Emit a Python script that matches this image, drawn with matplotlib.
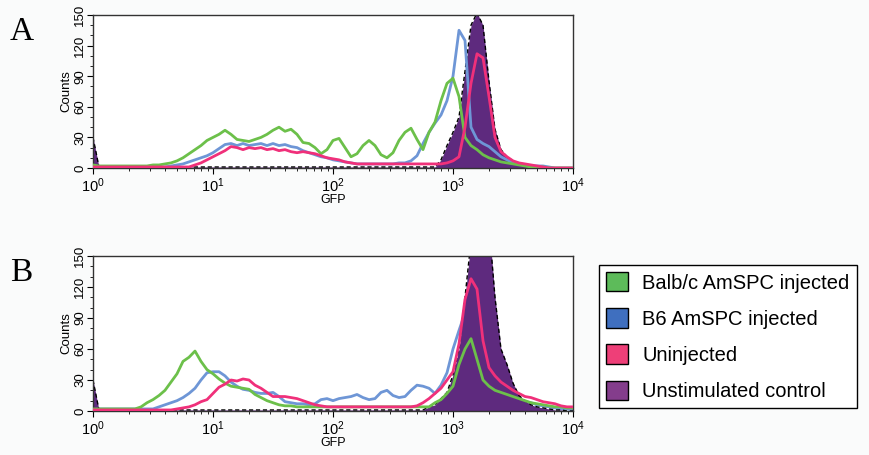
# FACS histograms: GFP expression, panels A and B
import matplotlib.pyplot as plt
import numpy as np
from matplotlib.patches import Patch

# log10(GFP) bin centres shared by all series
log_gfp = np.round(np.arange(0, 4.001, 0.05), 2)

# ---- panel A counts ----
a_balbc = [3, 2, 2, 2, 2, 2, 2, 2, 2, 2, 3, 3, 4, 5, 7, 10, 14, 18, 22, 27,
           30, 33, 37, 33, 28, 27, 26, 28, 30, 33, 37, 40, 36, 38, 33, 25, 24, 20, 14, 18,
           27, 29, 20, 11, 14, 22, 27, 22, 13, 10, 15, 27, 35, 39, 28, 18, 35, 45, 66, 83,
           88, 70, 30, 22, 18, 13, 10, 8, 6, 5, 4, 3, 2, 1, 1, 1, 0, 0, 0, 0, 0]
a_b6 = [1, 1, 1, 1, 1, 1, 1, 1, 1, 1, 1, 1, 1, 2, 3, 4, 6, 8, 10, 12,
        15, 19, 23, 24, 22, 24, 22, 23, 24, 22, 24, 22, 23, 21, 20, 17, 15, 13, 11, 10,
        8, 7, 6, 5, 4, 4, 4, 4, 4, 4, 4, 5, 5, 7, 12, 24, 35, 44, 52, 66,
        90, 135, 125, 40, 28, 24, 21, 16, 11, 8, 5, 4, 3, 2, 2, 2, 1, 0, 0, 0, 0]
a_uninj = [1, 1, 1, 1, 1, 1, 1, 1, 1, 1, 1, 1, 1, 1, 1, 1, 1, 3, 5, 8,
           11, 14, 17, 21, 20, 18, 20, 19, 20, 18, 19, 17, 18, 16, 15, 16, 15, 14, 12, 10,
           9, 8, 6, 5, 4, 4, 4, 4, 4, 4, 4, 4, 4, 4, 4, 4, 4, 4, 4, 5,
           7, 11, 40, 83, 112, 108, 70, 30, 16, 11, 7, 5, 4, 3, 2, 1, 0, 0, 0, 0, 0]
a_unstim = [30] + [1] * 57 + [8, 22, 35, 50, 95, 140, 152, 140, 85, 38, 18, 11, 7, 5,
                              3, 2, 1, 1, 0, 0, 0, 0, 0]

# ---- panel B counts ----
b_balbc = [2, 2, 2, 2, 2, 2, 2, 2, 4, 8, 11, 15, 20, 28, 36, 48, 52, 58, 48, 40,
           36, 31, 27, 24, 23, 22, 21, 16, 13, 10, 8, 6, 5, 5] + [4] * 23 + \
          [8, 11, 17, 24, 45, 60, 70, 50, 30, 24, 20, 18, 16, 14, 12, 10, 8, 7, 6, 5,
           4, 4, 3, 3]
b_b6 = [2] * 11 + [4, 6, 8, 10, 13, 17, 22, 30, 37,
                   38, 38, 34, 28, 24, 21, 20, 18, 17, 17, 18, 14, 9, 8, 7, 7, 6, 7, 11, 12,
                   10, 12, 13, 14, 16, 13, 11, 12, 18, 20, 15, 13, 14, 20, 25, 24, 22, 17, 25, 37,
                   60, 78, 95, 100, 80, 50, 30, 22, 17, 14, 12, 10, 9, 8, 6, 5, 4, 3, 2, 2, 1]
b_uninj = [1] * 14 + [2, 3, 4, 6, 9, 11,
                      17, 23, 26, 30, 29, 31, 30, 25, 22, 18, 14, 14, 14, 13, 12, 10, 8, 6, 5] + \
          [4] * 15 + [5, 8, 12, 17, 22, 30,
                      38, 65, 108, 128, 118, 68, 42, 34, 28, 24, 20, 17, 14, 13, 11, 9, 8, 7, 5, 4, 4]
b_unstim = [30] + [1] * 55 + [4, 6, 12, 18, 35, 60, 110, 165, 190, 195, 180, 110, 60, 45, 27,
                              15, 10, 6, 4, 3, 2, 1, 1, 0, 0]

labels = ['Balb/c AmSPC injected', 'B6 AmSPC injected', 'Uninjected', 'Unstimulated control']
line_colors = ['#6cc04a', '#6e96d6', '#f0307a']
fill_color = '#5e2a7e'
legend_colors = ['#5dbb5a', '#3f6fbf', '#ee3f78', '#843d8c']

x = 10 ** log_gfp

fig = plt.figure(figsize=(8.69, 4.55), dpi=100)
fig.patch.set_facecolor('#fafbfb')
plt.rcParams['font.family'] = ['Liberation Sans', 'DejaVu Sans']

ax_a = fig.add_axes([93 / 869, 1 - 168 / 455, 480 / 869, 153 / 455])
ax_b = fig.add_axes([93 / 869, 1 - 411 / 455, 480 / 869, 155 / 455])


def draw_panel(ax, balbc, b6, uninj, unstim, b6_under):
    ax.set_facecolor('white')
    ax.fill_between(x, unstim, color=fill_color, lw=0, zorder=2)
    ax.plot(x, unstim, color='black', lw=1, ls=(0, (3, 2)), zorder=2.5)
    ax.plot(x, b6, color=line_colors[1], lw=2, zorder=1.5 if b6_under else 3)
    ax.plot(x, balbc, color=line_colors[0], lw=2, zorder=3.5)
    ax.plot(x, uninj, color=line_colors[2], lw=2, zorder=4)
    ax.set_xscale('log')
    ax.set_xlim(1, 1e4)
    ax.set_ylim(0, 150)
    ax.set_yticks([0, 30, 60, 90, 120, 150])
    ax.set_yticks(np.arange(0, 151, 10), minor=True)
    ax.tick_params(axis='y', labelrotation=90, labelsize=9.5, length=4, pad=1)
    for t in ax.get_yticklabels():
        t.set_va('center')
    ax.tick_params(axis='y', which='minor', length=2)
    ax.tick_params(axis='x', labelsize=10.5, length=4, pad=2)
    ax.tick_params(axis='x', which='minor', length=2.5)
    ax.set_ylabel('Counts', fontsize=9.5, labelpad=1)
    ax.set_xlabel('GFP', fontsize=9, labelpad=-1)
    for s in ax.spines.values():
        s.set_linewidth(1)
        s.set_color('#333333')


draw_panel(ax_a, a_balbc, a_b6, a_uninj, a_unstim, False)
draw_panel(ax_b, b_balbc, b_b6, b_uninj, b_unstim, True)

fig.text(10 / 869, 1 - 40 / 455, 'A', fontsize=24, family='Liberation Serif')
fig.text(10 / 869, 1 - 281 / 455, 'B', fontsize=24, family='Liberation Serif')

handles = [Patch(facecolor=c, edgecolor='black', lw=1) for c in legend_colors]
leg = fig.legend(handles, labels, loc='upper left', bbox_to_anchor=(599 / 869, 1 - 265 / 455),
                 fontsize=14.5, handlelength=1.1, handleheight=1.1, labelspacing=0.78,
                 handletextpad=0.7, borderpad=0.35, fancybox=False, framealpha=1,
                 borderaxespad=0)
leg.get_frame().set_edgecolor('black')
leg.get_frame().set_linewidth(1)

fig.savefig('out.png', dpi=100, facecolor=fig.get_facecolor())
